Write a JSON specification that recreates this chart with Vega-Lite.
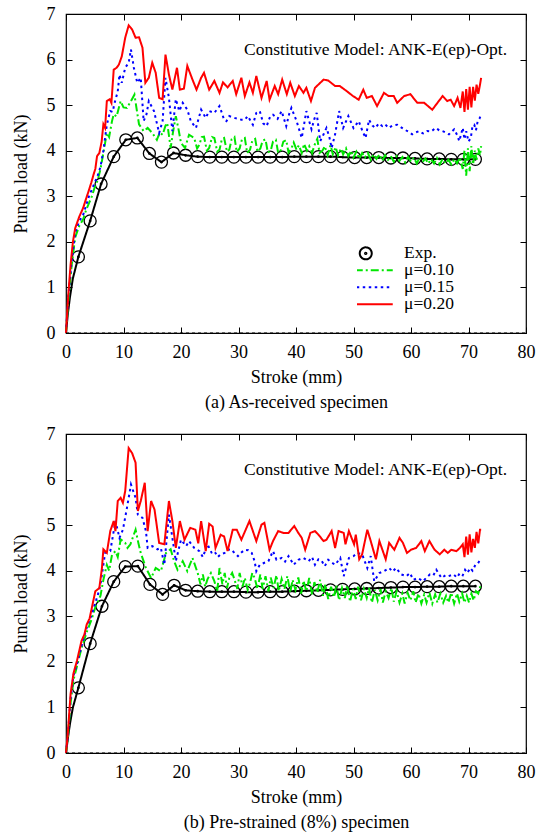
{
"$schema":"https://vega.github.io/schema/vega-lite/v6.json",
"padding":{"left":11,"top":4,"right":2,"bottom":1},
"bounds":"flush",
"spacing":101,
"datasets":{
"a":[
{"s":"Exp.","x":0,"y":0},{"s":"Exp.","x":0.3,"y":0.4},{"s":"Exp.","x":0.7,"y":0.8},{"s":"Exp.","x":1.2,"y":1.2},{"s":"Exp.","x":2.15,"y":1.67},{"s":"Exp.","x":4.2,"y":2.46},{"s":"Exp.","x":6.1,"y":3.27},{"s":"Exp.","x":8.3,"y":3.87},{"s":"Exp.","x":10.4,"y":4.24},{"s":"Exp.","x":12.4,"y":4.28},{"s":"Exp.","x":14.5,"y":3.94},{"s":"Exp.","x":16.6,"y":3.75},{"s":"Exp.","x":18.7,"y":3.95},{"s":"Exp.","x":20.8,"y":3.9},{"s":"Exp.","x":22.9,"y":3.87},{"s":"Exp.","x":25.0,"y":3.86},{"s":"Exp.","x":27.1,"y":3.86},{"s":"Exp.","x":29.2,"y":3.86},{"s":"Exp.","x":31.3,"y":3.86},{"s":"Exp.","x":33.4,"y":3.86},{"s":"Exp.","x":35.5,"y":3.86},{"s":"Exp.","x":37.6,"y":3.86},{"s":"Exp.","x":39.7,"y":3.87},{"s":"Exp.","x":41.8,"y":3.87},{"s":"Exp.","x":43.9,"y":3.87},{"s":"Exp.","x":46.0,"y":3.87},{"s":"Exp.","x":48.1,"y":3.86},{"s":"Exp.","x":50.2,"y":3.85},{"s":"Exp.","x":52.3,"y":3.85},{"s":"Exp.","x":54.4,"y":3.85},{"s":"Exp.","x":56.5,"y":3.84},{"s":"Exp.","x":58.6,"y":3.84},{"s":"Exp.","x":60.7,"y":3.83},{"s":"Exp.","x":62.8,"y":3.82},{"s":"Exp.","x":64.9,"y":3.82},{"s":"Exp.","x":67.0,"y":3.81},{"s":"Exp.","x":69.1,"y":3.81},{"s":"Exp.","x":71.2,"y":3.81},
{"s":"μ=0.10","x":0,"y":0},{"s":"μ=0.10","x":0.4,"y":0.7},{"s":"μ=0.10","x":1.0,"y":1.5},{"s":"μ=0.10","x":1.6,"y":2.1},{"s":"μ=0.10","x":2.3,"y":2.35},{"s":"μ=0.10","x":3.0,"y":2.5},{"s":"μ=0.10","x":3.5,"y":2.7},{"s":"μ=0.10","x":4.0,"y":2.85},{"s":"μ=0.10","x":4.5,"y":3.0},{"s":"μ=0.10","x":5.0,"y":3.2},{"s":"μ=0.10","x":5.5,"y":3.35},{"s":"μ=0.10","x":6.0,"y":3.6},{"s":"μ=0.10","x":6.5,"y":3.95},{"s":"μ=0.10","x":7.1,"y":4.39},{"s":"μ=0.10","x":7.5,"y":4.3},{"s":"μ=0.10","x":8.0,"y":4.65},{"s":"μ=0.10","x":8.3,"y":4.8},{"s":"μ=0.10","x":8.8,"y":4.75},{"s":"μ=0.10","x":9.5,"y":5.09},{"s":"μ=0.10","x":10.0,"y":4.95},{"s":"μ=0.10","x":10.6,"y":4.94},{"s":"μ=0.10","x":11.3,"y":5.09},{"s":"μ=0.10","x":11.9,"y":5.23},{"s":"μ=0.10","x":12.3,"y":4.9},{"s":"μ=0.10","x":12.7,"y":4.58},{"s":"μ=0.10","x":13.5,"y":4.43},{"s":"μ=0.10","x":14.2,"y":4.5},{"s":"μ=0.10","x":15.0,"y":4.39},{"s":"μ=0.10","x":15.8,"y":4.24},{"s":"μ=0.10","x":16.3,"y":4.4},{"s":"μ=0.10","x":16.8,"y":4.35},{"s":"μ=0.10","x":17.3,"y":4.55},{"s":"μ=0.10","x":17.6,"y":4.61},{"s":"μ=0.10","x":18.2,"y":4.06},{"s":"μ=0.10","x":18.6,"y":4.4},{"s":"μ=0.10","x":19.1,"y":4.76},{"s":"μ=0.10","x":19.6,"y":4.45},{"s":"μ=0.10","x":20.0,"y":4.17},{"s":"μ=0.10","x":20.7,"y":4.06},{"s":"μ=0.10","x":21.4,"y":4.35},{"s":"μ=0.10","x":22.3,"y":4.28},{"s":"μ=0.10","x":22.8,"y":4.05},{"s":"μ=0.10","x":23.2,"y":4.13},{"s":"μ=0.10","x":23.6,"y":4.3},{"s":"μ=0.10","x":24.0,"y":4.31},{"s":"μ=0.10","x":24.5,"y":4.0},{"s":"μ=0.10","x":24.9,"y":4.06},{"s":"μ=0.10","x":25.4,"y":4.3},{"s":"μ=0.10","x":25.8,"y":4.28},{"s":"μ=0.10","x":26.3,"y":3.98},{"s":"μ=0.10","x":26.7,"y":4.02},{"s":"μ=0.10","x":27.1,"y":4.25},{"s":"μ=0.10","x":27.5,"y":4.28},{"s":"μ=0.10","x":28.0,"y":3.98},{"s":"μ=0.10","x":28.4,"y":4.02},{"s":"μ=0.10","x":28.8,"y":4.25},{"s":"μ=0.10","x":29.3,"y":4.3},{"s":"μ=0.10","x":29.7,"y":3.97},{"s":"μ=0.10","x":30.2,"y":4.05},{"s":"μ=0.10","x":30.6,"y":4.25},{"s":"μ=0.10","x":31.1,"y":4.28},{"s":"μ=0.10","x":31.5,"y":3.95},{"s":"μ=0.10","x":32.0,"y":4.02},{"s":"μ=0.10","x":32.4,"y":4.22},{"s":"μ=0.10","x":32.9,"y":4.26},{"s":"μ=0.10","x":33.3,"y":3.98},{"s":"μ=0.10","x":33.8,"y":4.05},{"s":"μ=0.10","x":34.2,"y":4.22},{"s":"μ=0.10","x":34.7,"y":4.25},{"s":"μ=0.10","x":35.1,"y":3.96},{"s":"μ=0.10","x":35.6,"y":4.0},{"s":"μ=0.10","x":36.0,"y":4.2},{"s":"μ=0.10","x":36.5,"y":4.24},{"s":"μ=0.10","x":36.9,"y":3.95},{"s":"μ=0.10","x":37.4,"y":4.02},{"s":"μ=0.10","x":37.8,"y":4.2},{"s":"μ=0.10","x":38.3,"y":4.23},{"s":"μ=0.10","x":38.7,"y":3.96},{"s":"μ=0.10","x":39.2,"y":4.05},{"s":"μ=0.10","x":39.6,"y":4.18},{"s":"μ=0.10","x":40.1,"y":4.02},{"s":"μ=0.10","x":40.5,"y":4.12},{"s":"μ=0.10","x":41.0,"y":3.95},{"s":"μ=0.10","x":41.4,"y":4.15},{"s":"μ=0.10","x":41.9,"y":4.0},{"s":"μ=0.10","x":42.3,"y":4.1},{"s":"μ=0.10","x":42.8,"y":3.95},{"s":"μ=0.10","x":43.2,"y":4.12},{"s":"μ=0.10","x":43.7,"y":4.26},{"s":"μ=0.10","x":44.1,"y":3.95},{"s":"μ=0.10","x":44.6,"y":4.0},{"s":"μ=0.10","x":45.0,"y":4.1},{"s":"μ=0.10","x":45.5,"y":3.9},{"s":"μ=0.10","x":46.0,"y":4.12},{"s":"μ=0.10","x":46.4,"y":3.92},{"s":"μ=0.10","x":46.9,"y":4.08},{"s":"μ=0.10","x":47.3,"y":3.9},{"s":"μ=0.10","x":47.8,"y":4.05},{"s":"μ=0.10","x":48.2,"y":3.92},{"s":"μ=0.10","x":48.7,"y":4.05},{"s":"μ=0.10","x":49.1,"y":3.88},{"s":"μ=0.10","x":49.6,"y":4.0},{"s":"μ=0.10","x":50.0,"y":3.85},{"s":"μ=0.10","x":50.5,"y":3.98},{"s":"μ=0.10","x":51.0,"y":3.82},{"s":"μ=0.10","x":51.5,"y":3.95},{"s":"μ=0.10","x":52.0,"y":3.85},{"s":"μ=0.10","x":52.5,"y":3.95},{"s":"μ=0.10","x":53.0,"y":3.8},{"s":"μ=0.10","x":53.5,"y":3.92},{"s":"μ=0.10","x":54.0,"y":3.82},{"s":"μ=0.10","x":54.5,"y":3.92},{"s":"μ=0.10","x":55.0,"y":3.78},{"s":"μ=0.10","x":55.5,"y":3.9},{"s":"μ=0.10","x":56.0,"y":3.8},{"s":"μ=0.10","x":56.5,"y":3.88},{"s":"μ=0.10","x":57.0,"y":3.76},{"s":"μ=0.10","x":57.5,"y":3.88},{"s":"μ=0.10","x":58.0,"y":3.78},{"s":"μ=0.10","x":58.5,"y":3.86},{"s":"μ=0.10","x":59.0,"y":3.74},{"s":"μ=0.10","x":59.5,"y":3.86},{"s":"μ=0.10","x":60.0,"y":3.76},{"s":"μ=0.10","x":60.5,"y":3.85},{"s":"μ=0.10","x":61.0,"y":3.72},{"s":"μ=0.10","x":61.5,"y":3.85},{"s":"μ=0.10","x":62.0,"y":3.75},{"s":"μ=0.10","x":62.5,"y":3.83},{"s":"μ=0.10","x":63.0,"y":3.72},{"s":"μ=0.10","x":63.5,"y":3.82},{"s":"μ=0.10","x":64.0,"y":3.72},{"s":"μ=0.10","x":64.5,"y":3.84},{"s":"μ=0.10","x":65.0,"y":3.7},{"s":"μ=0.10","x":65.5,"y":3.82},{"s":"μ=0.10","x":66.0,"y":3.72},{"s":"μ=0.10","x":66.5,"y":3.8},{"s":"μ=0.10","x":67.0,"y":3.7},{"s":"μ=0.10","x":67.5,"y":3.82},{"s":"μ=0.10","x":68.0,"y":3.72},{"s":"μ=0.10","x":68.5,"y":3.85},{"s":"μ=0.10","x":69.0,"y":3.6},{"s":"μ=0.10","x":69.3,"y":4.0},{"s":"μ=0.10","x":69.6,"y":3.45},{"s":"μ=0.10","x":69.9,"y":4.05},{"s":"μ=0.10","x":70.2,"y":3.55},{"s":"μ=0.10","x":70.5,"y":4.1},{"s":"μ=0.10","x":70.8,"y":3.7},{"s":"μ=0.10","x":71.1,"y":4.0},{"s":"μ=0.10","x":71.4,"y":3.8},{"s":"μ=0.10","x":71.7,"y":4.05},{"s":"μ=0.10","x":72.0,"y":3.9},{"s":"μ=0.10","x":72.2,"y":4.1},
{"s":"μ=0.15","x":0,"y":0},{"s":"μ=0.15","x":0.4,"y":0.8},{"s":"μ=0.15","x":1.0,"y":1.6},{"s":"μ=0.15","x":1.6,"y":2.2},{"s":"μ=0.15","x":2.3,"y":2.45},{"s":"μ=0.15","x":3.0,"y":2.6},{"s":"μ=0.15","x":3.5,"y":2.8},{"s":"μ=0.15","x":4.0,"y":3.0},{"s":"μ=0.15","x":4.5,"y":3.15},{"s":"μ=0.15","x":5.0,"y":3.3},{"s":"μ=0.15","x":5.5,"y":3.45},{"s":"μ=0.15","x":6.0,"y":3.65},{"s":"μ=0.15","x":6.5,"y":4.0},{"s":"μ=0.15","x":7.1,"y":4.57},{"s":"μ=0.15","x":7.7,"y":4.87},{"s":"μ=0.15","x":8.1,"y":4.85},{"s":"μ=0.15","x":8.5,"y":5.07},{"s":"μ=0.15","x":9.0,"y":5.3},{"s":"μ=0.15","x":9.3,"y":5.67},{"s":"μ=0.15","x":9.7,"y":5.49},{"s":"μ=0.15","x":10.3,"y":5.82},{"s":"μ=0.15","x":10.9,"y":5.93},{"s":"μ=0.15","x":11.3,"y":6.22},{"s":"μ=0.15","x":11.8,"y":5.82},{"s":"μ=0.15","x":12.4,"y":5.49},{"s":"μ=0.15","x":13.0,"y":5.6},{"s":"μ=0.15","x":13.5,"y":4.65},{"s":"μ=0.15","x":14.0,"y":4.8},{"s":"μ=0.15","x":14.4,"y":5.09},{"s":"μ=0.15","x":15.3,"y":4.87},{"s":"μ=0.15","x":16.2,"y":4.39},{"s":"μ=0.15","x":16.8,"y":4.65},{"s":"μ=0.15","x":17.3,"y":5.6},{"s":"μ=0.15","x":17.9,"y":5.16},{"s":"μ=0.15","x":18.5,"y":4.43},{"s":"μ=0.15","x":19.1,"y":5.13},{"s":"μ=0.15","x":19.7,"y":4.87},{"s":"μ=0.15","x":20.3,"y":5.05},{"s":"μ=0.15","x":21.1,"y":4.9},{"s":"μ=0.15","x":21.7,"y":4.65},{"s":"μ=0.15","x":22.6,"y":4.5},{"s":"μ=0.15","x":23.5,"y":4.9},{"s":"μ=0.15","x":24.3,"y":4.72},{"s":"μ=0.15","x":24.9,"y":4.87},{"s":"μ=0.15","x":25.8,"y":4.83},{"s":"μ=0.15","x":26.7,"y":4.98},{"s":"μ=0.15","x":27.5,"y":4.68},{"s":"μ=0.15","x":27.9,"y":4.65},{"s":"μ=0.15","x":28.4,"y":4.76},{"s":"μ=0.15","x":29.3,"y":4.72},{"s":"μ=0.15","x":30.0,"y":4.7},{"s":"μ=0.15","x":30.5,"y":4.68},{"s":"μ=0.15","x":31.1,"y":4.68},{"s":"μ=0.15","x":31.6,"y":4.76},{"s":"μ=0.15","x":32.5,"y":4.57},{"s":"μ=0.15","x":33.1,"y":4.83},{"s":"μ=0.15","x":33.7,"y":4.87},{"s":"μ=0.15","x":34.3,"y":4.6},{"s":"μ=0.15","x":34.9,"y":4.54},{"s":"μ=0.15","x":35.5,"y":4.75},{"s":"μ=0.15","x":36.0,"y":4.79},{"s":"μ=0.15","x":36.8,"y":4.7},{"s":"μ=0.15","x":37.5,"y":4.87},{"s":"μ=0.15","x":38.3,"y":4.54},{"s":"μ=0.15","x":38.8,"y":4.8},{"s":"μ=0.15","x":39.2,"y":4.94},{"s":"μ=0.15","x":40.1,"y":4.65},{"s":"μ=0.15","x":41.0,"y":4.28},{"s":"μ=0.15","x":41.8,"y":4.87},{"s":"μ=0.15","x":42.7,"y":4.47},{"s":"μ=0.15","x":43.2,"y":4.7},{"s":"μ=0.15","x":43.6,"y":4.83},{"s":"μ=0.15","x":44.2,"y":4.21},{"s":"μ=0.15","x":44.8,"y":4.36},{"s":"μ=0.15","x":45.3,"y":4.5},{"s":"μ=0.15","x":45.8,"y":4.3},{"s":"μ=0.15","x":46.2,"y":4.06},{"s":"μ=0.15","x":46.8,"y":4.36},{"s":"μ=0.15","x":47.5,"y":4.87},{"s":"μ=0.15","x":48.2,"y":4.5},{"s":"μ=0.15","x":49.1,"y":4.76},{"s":"μ=0.15","x":50.0,"y":4.5},{"s":"μ=0.15","x":50.9,"y":4.65},{"s":"μ=0.15","x":51.5,"y":4.45},{"s":"μ=0.15","x":52.1,"y":4.28},{"s":"μ=0.15","x":52.7,"y":4.68},{"s":"μ=0.15","x":53.3,"y":4.55},{"s":"μ=0.15","x":53.8,"y":4.5},{"s":"μ=0.15","x":54.4,"y":4.6},{"s":"μ=0.15","x":55.0,"y":4.54},{"s":"μ=0.15","x":55.5,"y":4.58},{"s":"μ=0.15","x":56.1,"y":4.5},{"s":"μ=0.15","x":56.8,"y":4.55},{"s":"μ=0.15","x":57.6,"y":4.57},{"s":"μ=0.15","x":58.2,"y":4.52},{"s":"μ=0.15","x":58.8,"y":4.47},{"s":"μ=0.15","x":59.5,"y":4.42},{"s":"μ=0.15","x":60.2,"y":4.36},{"s":"μ=0.15","x":60.8,"y":4.4},{"s":"μ=0.15","x":61.4,"y":4.43},{"s":"μ=0.15","x":62.1,"y":4.38},{"s":"μ=0.15","x":62.8,"y":4.43},{"s":"μ=0.15","x":63.5,"y":4.42},{"s":"μ=0.15","x":64.3,"y":4.5},{"s":"μ=0.15","x":64.9,"y":4.45},{"s":"μ=0.15","x":65.5,"y":4.43},{"s":"μ=0.15","x":66.0,"y":4.4},{"s":"μ=0.15","x":66.6,"y":4.36},{"s":"μ=0.15","x":67.1,"y":4.42},{"s":"μ=0.15","x":67.5,"y":4.47},{"s":"μ=0.15","x":68.0,"y":4.35},{"s":"μ=0.15","x":68.4,"y":4.21},{"s":"μ=0.15","x":69.0,"y":4.5},{"s":"μ=0.15","x":69.3,"y":4.25},{"s":"μ=0.15","x":69.6,"y":4.43},{"s":"μ=0.15","x":70.0,"y":4.2},{"s":"μ=0.15","x":70.4,"y":4.28},{"s":"μ=0.15","x":70.7,"y":4.55},{"s":"μ=0.15","x":71.0,"y":4.57},{"s":"μ=0.15","x":71.3,"y":4.45},{"s":"μ=0.15","x":71.6,"y":4.65},{"s":"μ=0.15","x":71.9,"y":4.7},{"s":"μ=0.15","x":72.2,"y":4.8},
{"s":"μ=0.20","x":0,"y":0},{"s":"μ=0.20","x":0.4,"y":0.85},{"s":"μ=0.20","x":0.8,"y":1.5},{"s":"μ=0.20","x":1.2,"y":2.0},{"s":"μ=0.20","x":1.6,"y":2.3},{"s":"μ=0.20","x":2.3,"y":2.55},{"s":"μ=0.20","x":3.0,"y":2.75},{"s":"μ=0.20","x":3.5,"y":2.95},{"s":"μ=0.20","x":3.9,"y":3.1},{"s":"μ=0.20","x":4.4,"y":3.3},{"s":"μ=0.20","x":4.8,"y":3.48},{"s":"μ=0.20","x":5.1,"y":3.6},{"s":"μ=0.20","x":5.4,"y":3.88},{"s":"μ=0.20","x":5.8,"y":3.95},{"s":"μ=0.20","x":6.2,"y":4.2},{"s":"μ=0.20","x":6.5,"y":4.58},{"s":"μ=0.20","x":6.8,"y":4.5},{"s":"μ=0.20","x":7.1,"y":5.09},{"s":"μ=0.20","x":7.6,"y":5.13},{"s":"μ=0.20","x":7.9,"y":5.05},{"s":"μ=0.20","x":8.3,"y":5.78},{"s":"μ=0.20","x":8.8,"y":5.82},{"s":"μ=0.20","x":9.2,"y":5.89},{"s":"μ=0.20","x":9.7,"y":6.07},{"s":"μ=0.20","x":10.3,"y":6.48},{"s":"μ=0.20","x":10.9,"y":6.75},{"s":"μ=0.20","x":11.5,"y":6.66},{"s":"μ=0.20","x":12.1,"y":6.48},{"s":"μ=0.20","x":12.7,"y":6.49},{"s":"μ=0.20","x":13.3,"y":6.26},{"s":"μ=0.20","x":13.8,"y":5.49},{"s":"μ=0.20","x":14.4,"y":5.6},{"s":"μ=0.20","x":15.0,"y":5.93},{"s":"μ=0.20","x":15.6,"y":5.71},{"s":"μ=0.20","x":16.2,"y":5.16},{"s":"μ=0.20","x":16.8,"y":5.13},{"s":"μ=0.20","x":17.3,"y":6.11},{"s":"μ=0.20","x":17.9,"y":5.67},{"s":"μ=0.20","x":18.5,"y":5.34},{"s":"μ=0.20","x":19.3,"y":5.82},{"s":"μ=0.20","x":19.8,"y":5.34},{"s":"μ=0.20","x":20.5,"y":5.36},{"s":"μ=0.20","x":21.1,"y":5.86},{"s":"μ=0.20","x":22.0,"y":5.56},{"s":"μ=0.20","x":22.7,"y":5.34},{"s":"μ=0.20","x":23.5,"y":5.6},{"s":"μ=0.20","x":24.0,"y":5.71},{"s":"μ=0.20","x":24.9,"y":5.34},{"s":"μ=0.20","x":25.8,"y":5.53},{"s":"μ=0.20","x":26.7,"y":5.27},{"s":"μ=0.20","x":27.3,"y":5.5},{"s":"μ=0.20","x":28.1,"y":5.39},{"s":"μ=0.20","x":29.0,"y":5.53},{"s":"μ=0.20","x":29.6,"y":5.24},{"s":"μ=0.20","x":30.5,"y":5.6},{"s":"μ=0.20","x":31.1,"y":5.2},{"s":"μ=0.20","x":31.9,"y":5.5},{"s":"μ=0.20","x":32.5,"y":5.27},{"s":"μ=0.20","x":33.1,"y":5.64},{"s":"μ=0.20","x":34.0,"y":5.16},{"s":"μ=0.20","x":34.9,"y":5.53},{"s":"μ=0.20","x":35.4,"y":5.12},{"s":"μ=0.20","x":36.3,"y":5.42},{"s":"μ=0.20","x":36.9,"y":5.24},{"s":"μ=0.20","x":37.6,"y":5.56},{"s":"μ=0.20","x":38.4,"y":5.24},{"s":"μ=0.20","x":39.0,"y":5.49},{"s":"μ=0.20","x":39.8,"y":5.2},{"s":"μ=0.20","x":40.5,"y":5.42},{"s":"μ=0.20","x":41.3,"y":5.27},{"s":"μ=0.20","x":41.8,"y":5.38},{"s":"μ=0.20","x":42.6,"y":5.09},{"s":"μ=0.20","x":43.3,"y":5.38},{"s":"μ=0.20","x":44.8,"y":5.56},{"s":"μ=0.20","x":45.6,"y":5.54},{"s":"μ=0.20","x":46.8,"y":5.42},{"s":"μ=0.20","x":47.6,"y":5.42},{"s":"μ=0.20","x":48.8,"y":5.31},{"s":"μ=0.20","x":49.9,"y":5.2},{"s":"μ=0.20","x":50.9,"y":5.12},{"s":"μ=0.20","x":51.7,"y":5.34},{"s":"μ=0.20","x":52.3,"y":5.16},{"s":"μ=0.20","x":53.2,"y":5.2},{"s":"μ=0.20","x":54.1,"y":4.98},{"s":"μ=0.20","x":55.3,"y":5.27},{"s":"μ=0.20","x":56.1,"y":5.2},{"s":"μ=0.20","x":57.0,"y":5.2},{"s":"μ=0.20","x":57.6,"y":5.05},{"s":"μ=0.20","x":58.8,"y":5.2},{"s":"μ=0.20","x":59.9,"y":5.24},{"s":"μ=0.20","x":61.1,"y":5.05},{"s":"μ=0.20","x":62.3,"y":5.05},{"s":"μ=0.20","x":63.7,"y":4.9},{"s":"μ=0.20","x":64.6,"y":5.05},{"s":"μ=0.20","x":65.5,"y":5.2},{"s":"μ=0.20","x":66.3,"y":5.09},{"s":"μ=0.20","x":66.9,"y":5.12},{"s":"μ=0.20","x":67.5,"y":4.98},{"s":"μ=0.20","x":68.1,"y":5.16},{"s":"μ=0.20","x":68.6,"y":4.94},{"s":"μ=0.20","x":69.0,"y":5.3},{"s":"μ=0.20","x":69.3,"y":4.85},{"s":"μ=0.20","x":69.6,"y":5.35},{"s":"μ=0.20","x":69.9,"y":4.9},{"s":"μ=0.20","x":70.2,"y":5.4},{"s":"μ=0.20","x":70.5,"y":4.95},{"s":"μ=0.20","x":70.8,"y":5.4},{"s":"μ=0.20","x":71.1,"y":5.1},{"s":"μ=0.20","x":71.4,"y":5.45},{"s":"μ=0.20","x":71.7,"y":5.25},{"s":"μ=0.20","x":72.0,"y":5.45},{"s":"μ=0.20","x":72.2,"y":5.6}
],
"b":[
{"s":"Exp.","x":0,"y":0},{"s":"Exp.","x":0.3,"y":0.3},{"s":"Exp.","x":0.7,"y":0.65},{"s":"Exp.","x":1.2,"y":1.0},{"s":"Exp.","x":2.15,"y":1.43},{"s":"Exp.","x":4.2,"y":2.4},{"s":"Exp.","x":6.25,"y":3.22},{"s":"Exp.","x":8.3,"y":3.76},{"s":"Exp.","x":10.3,"y":4.09},{"s":"Exp.","x":12.5,"y":4.1},{"s":"Exp.","x":14.6,"y":3.7},{"s":"Exp.","x":16.8,"y":3.48},{"s":"Exp.","x":18.8,"y":3.68},{"s":"Exp.","x":20.8,"y":3.57},{"s":"Exp.","x":22.9,"y":3.55},{"s":"Exp.","x":25.0,"y":3.54},{"s":"Exp.","x":27.1,"y":3.54},{"s":"Exp.","x":29.2,"y":3.54},{"s":"Exp.","x":31.3,"y":3.53},{"s":"Exp.","x":33.4,"y":3.53},{"s":"Exp.","x":35.5,"y":3.54},{"s":"Exp.","x":37.6,"y":3.54},{"s":"Exp.","x":39.7,"y":3.55},{"s":"Exp.","x":41.8,"y":3.56},{"s":"Exp.","x":43.9,"y":3.57},{"s":"Exp.","x":46.0,"y":3.58},{"s":"Exp.","x":48.1,"y":3.59},{"s":"Exp.","x":50.2,"y":3.6},{"s":"Exp.","x":52.3,"y":3.61},{"s":"Exp.","x":54.4,"y":3.62},{"s":"Exp.","x":56.5,"y":3.63},{"s":"Exp.","x":58.6,"y":3.64},{"s":"Exp.","x":60.7,"y":3.64},{"s":"Exp.","x":62.8,"y":3.65},{"s":"Exp.","x":64.9,"y":3.65},{"s":"Exp.","x":67.0,"y":3.66},{"s":"Exp.","x":69.1,"y":3.66},{"s":"Exp.","x":71.2,"y":3.66},
{"s":"μ=0.10","x":0,"y":0},{"s":"μ=0.10","x":0.3,"y":0.3},{"s":"μ=0.10","x":0.8,"y":1.1},{"s":"μ=0.10","x":1.3,"y":1.6},{"s":"μ=0.10","x":1.9,"y":1.9},{"s":"μ=0.10","x":2.7,"y":2.3},{"s":"μ=0.10","x":3.6,"y":2.65},{"s":"μ=0.10","x":4.5,"y":2.95},{"s":"μ=0.10","x":5.1,"y":3.2},{"s":"μ=0.10","x":6.0,"y":3.45},{"s":"μ=0.10","x":6.5,"y":3.8},{"s":"μ=0.10","x":7.1,"y":4.13},{"s":"μ=0.10","x":7.5,"y":4.0},{"s":"μ=0.10","x":8.0,"y":4.35},{"s":"μ=0.10","x":8.6,"y":4.43},{"s":"μ=0.10","x":9.0,"y":4.3},{"s":"μ=0.10","x":9.5,"y":4.69},{"s":"μ=0.10","x":10.3,"y":4.61},{"s":"μ=0.10","x":10.7,"y":4.5},{"s":"μ=0.10","x":11.2,"y":4.58},{"s":"μ=0.10","x":12.1,"y":4.9},{"s":"μ=0.10","x":12.6,"y":4.6},{"s":"μ=0.10","x":13.0,"y":4.39},{"s":"μ=0.10","x":13.9,"y":4.06},{"s":"μ=0.10","x":14.8,"y":3.84},{"s":"μ=0.10","x":15.6,"y":4.06},{"s":"μ=0.10","x":16.5,"y":3.99},{"s":"μ=0.10","x":17.4,"y":4.39},{"s":"μ=0.10","x":18.2,"y":4.47},{"s":"μ=0.10","x":18.8,"y":4.21},{"s":"μ=0.10","x":19.4,"y":4.02},{"s":"μ=0.10","x":20.3,"y":4.21},{"s":"μ=0.10","x":21.1,"y":3.99},{"s":"μ=0.10","x":22.0,"y":4.28},{"s":"μ=0.10","x":22.9,"y":3.95},{"s":"μ=0.10","x":23.4,"y":3.7},{"s":"μ=0.10","x":23.8,"y":3.92},{"s":"μ=0.10","x":24.2,"y":3.65},{"s":"μ=0.10","x":24.6,"y":3.81},{"s":"μ=0.10","x":25.2,"y":3.95},{"s":"μ=0.10","x":25.8,"y":3.77},{"s":"μ=0.10","x":26.3,"y":3.55},{"s":"μ=0.10","x":26.7,"y":4.06},{"s":"μ=0.10","x":27.2,"y":3.7},{"s":"μ=0.10","x":27.6,"y":3.95},{"s":"μ=0.10","x":28.0,"y":3.62},{"s":"μ=0.10","x":28.4,"y":3.84},{"s":"μ=0.10","x":28.9,"y":3.95},{"s":"μ=0.10","x":29.3,"y":3.81},{"s":"μ=0.10","x":29.8,"y":3.6},{"s":"μ=0.10","x":30.2,"y":3.95},{"s":"μ=0.10","x":30.7,"y":3.65},{"s":"μ=0.10","x":31.1,"y":3.84},{"s":"μ=0.10","x":31.6,"y":3.58},{"s":"μ=0.10","x":32.0,"y":3.73},{"s":"μ=0.10","x":32.4,"y":3.95},{"s":"μ=0.10","x":32.8,"y":3.84},{"s":"μ=0.10","x":33.3,"y":3.6},{"s":"μ=0.10","x":33.8,"y":3.92},{"s":"μ=0.10","x":34.2,"y":3.6},{"s":"μ=0.10","x":34.7,"y":3.88},{"s":"μ=0.10","x":35.2,"y":3.55},{"s":"μ=0.10","x":35.6,"y":3.85},{"s":"μ=0.10","x":36.1,"y":3.62},{"s":"μ=0.10","x":36.6,"y":3.9},{"s":"μ=0.10","x":37.0,"y":3.55},{"s":"μ=0.10","x":37.5,"y":3.82},{"s":"μ=0.10","x":38.0,"y":3.6},{"s":"μ=0.10","x":38.5,"y":3.88},{"s":"μ=0.10","x":39.0,"y":3.52},{"s":"μ=0.10","x":39.4,"y":3.8},{"s":"μ=0.10","x":39.9,"y":3.58},{"s":"μ=0.10","x":40.4,"y":3.85},{"s":"μ=0.10","x":40.9,"y":3.5},{"s":"μ=0.10","x":41.3,"y":3.78},{"s":"μ=0.10","x":41.8,"y":3.55},{"s":"μ=0.10","x":42.3,"y":3.84},{"s":"μ=0.10","x":42.8,"y":3.48},{"s":"μ=0.10","x":43.2,"y":3.75},{"s":"μ=0.10","x":43.7,"y":3.52},{"s":"μ=0.10","x":44.2,"y":3.8},{"s":"μ=0.10","x":44.7,"y":3.45},{"s":"μ=0.10","x":45.1,"y":3.7},{"s":"μ=0.10","x":45.6,"y":3.38},{"s":"μ=0.10","x":46.1,"y":3.65},{"s":"μ=0.10","x":46.6,"y":3.42},{"s":"μ=0.10","x":47.0,"y":3.68},{"s":"μ=0.10","x":47.5,"y":3.35},{"s":"μ=0.10","x":48.0,"y":3.62},{"s":"μ=0.10","x":48.5,"y":3.4},{"s":"μ=0.10","x":48.9,"y":3.68},{"s":"μ=0.10","x":49.4,"y":3.32},{"s":"μ=0.10","x":49.9,"y":3.6},{"s":"μ=0.10","x":50.4,"y":3.38},{"s":"μ=0.10","x":50.8,"y":3.65},{"s":"μ=0.10","x":51.3,"y":3.35},{"s":"μ=0.10","x":51.8,"y":3.6},{"s":"μ=0.10","x":52.3,"y":3.4},{"s":"μ=0.10","x":52.7,"y":3.62},{"s":"μ=0.10","x":53.2,"y":3.3},{"s":"μ=0.10","x":53.7,"y":3.58},{"s":"μ=0.10","x":54.2,"y":3.35},{"s":"μ=0.10","x":54.7,"y":3.6},{"s":"μ=0.10","x":55.1,"y":3.3},{"s":"μ=0.10","x":55.6,"y":3.55},{"s":"μ=0.10","x":56.1,"y":3.4},{"s":"μ=0.10","x":56.6,"y":3.62},{"s":"μ=0.10","x":57.0,"y":3.32},{"s":"μ=0.10","x":57.5,"y":3.55},{"s":"μ=0.10","x":58.0,"y":3.3},{"s":"μ=0.10","x":58.5,"y":3.5},{"s":"μ=0.10","x":58.9,"y":3.28},{"s":"μ=0.10","x":59.4,"y":3.52},{"s":"μ=0.10","x":59.9,"y":3.35},{"s":"μ=0.10","x":60.4,"y":3.55},{"s":"μ=0.10","x":60.8,"y":3.3},{"s":"μ=0.10","x":61.3,"y":3.5},{"s":"μ=0.10","x":61.8,"y":3.28},{"s":"μ=0.10","x":62.3,"y":3.48},{"s":"μ=0.10","x":62.7,"y":3.3},{"s":"μ=0.10","x":63.2,"y":3.52},{"s":"μ=0.10","x":63.7,"y":3.28},{"s":"μ=0.10","x":64.2,"y":3.48},{"s":"μ=0.10","x":64.6,"y":3.3},{"s":"μ=0.10","x":65.1,"y":3.5},{"s":"μ=0.10","x":65.6,"y":3.3},{"s":"μ=0.10","x":66.1,"y":3.45},{"s":"μ=0.10","x":66.5,"y":3.3},{"s":"μ=0.10","x":67.0,"y":3.52},{"s":"μ=0.10","x":67.5,"y":3.28},{"s":"μ=0.10","x":68.0,"y":3.5},{"s":"μ=0.10","x":68.4,"y":3.32},{"s":"μ=0.10","x":68.9,"y":3.5},{"s":"μ=0.10","x":69.3,"y":3.3},{"s":"μ=0.10","x":69.7,"y":3.45},{"s":"μ=0.10","x":70.1,"y":3.3},{"s":"μ=0.10","x":70.5,"y":3.5},{"s":"μ=0.10","x":70.9,"y":3.35},{"s":"μ=0.10","x":71.3,"y":3.55},{"s":"μ=0.10","x":71.7,"y":3.5},{"s":"μ=0.10","x":72.2,"y":3.72},
{"s":"μ=0.15","x":0,"y":0},{"s":"μ=0.15","x":0.3,"y":0.35},{"s":"μ=0.15","x":0.8,"y":1.2},{"s":"μ=0.15","x":1.3,"y":1.7},{"s":"μ=0.15","x":1.9,"y":1.95},{"s":"μ=0.15","x":2.7,"y":2.35},{"s":"μ=0.15","x":3.6,"y":2.75},{"s":"μ=0.15","x":4.5,"y":3.05},{"s":"μ=0.15","x":5.1,"y":3.3},{"s":"μ=0.15","x":5.5,"y":3.45},{"s":"μ=0.15","x":6.0,"y":3.7},{"s":"μ=0.15","x":6.8,"y":4.39},{"s":"μ=0.15","x":7.7,"y":4.43},{"s":"μ=0.15","x":8.6,"y":5.09},{"s":"μ=0.15","x":9.3,"y":4.72},{"s":"μ=0.15","x":9.9,"y":4.9},{"s":"μ=0.15","x":10.6,"y":5.38},{"s":"μ=0.15","x":11.3,"y":5.89},{"s":"μ=0.15","x":12.1,"y":5.6},{"s":"μ=0.15","x":12.5,"y":5.23},{"s":"μ=0.15","x":13.3,"y":5.16},{"s":"μ=0.15","x":13.9,"y":4.87},{"s":"μ=0.15","x":14.2,"y":4.5},{"s":"μ=0.15","x":15.0,"y":4.54},{"s":"μ=0.15","x":15.9,"y":4.47},{"s":"μ=0.15","x":16.5,"y":4.5},{"s":"μ=0.15","x":17.1,"y":4.13},{"s":"μ=0.15","x":17.9,"y":5.23},{"s":"μ=0.15","x":18.5,"y":4.72},{"s":"μ=0.15","x":19.1,"y":4.21},{"s":"μ=0.15","x":20.0,"y":4.68},{"s":"μ=0.15","x":20.9,"y":4.54},{"s":"μ=0.15","x":21.4,"y":4.65},{"s":"μ=0.15","x":22.3,"y":4.5},{"s":"μ=0.15","x":23.2,"y":4.43},{"s":"μ=0.15","x":23.8,"y":4.3},{"s":"μ=0.15","x":24.6,"y":4.58},{"s":"μ=0.15","x":25.3,"y":4.4},{"s":"μ=0.15","x":25.8,"y":4.43},{"s":"μ=0.15","x":26.4,"y":4.3},{"s":"μ=0.15","x":26.9,"y":4.36},{"s":"μ=0.15","x":27.6,"y":4.39},{"s":"μ=0.15","x":28.1,"y":4.46},{"s":"μ=0.15","x":28.7,"y":4.47},{"s":"μ=0.15","x":29.3,"y":4.39},{"s":"μ=0.15","x":29.9,"y":4.32},{"s":"μ=0.15","x":30.5,"y":4.4},{"s":"μ=0.15","x":31.1,"y":4.46},{"s":"μ=0.15","x":31.7,"y":4.45},{"s":"μ=0.15","x":32.3,"y":4.39},{"s":"μ=0.15","x":32.8,"y":4.21},{"s":"μ=0.15","x":33.1,"y":3.99},{"s":"μ=0.15","x":33.7,"y":4.13},{"s":"μ=0.15","x":34.6,"y":4.18},{"s":"μ=0.15","x":35.2,"y":4.21},{"s":"μ=0.15","x":36.0,"y":4.43},{"s":"μ=0.15","x":36.6,"y":4.24},{"s":"μ=0.15","x":37.5,"y":4.28},{"s":"μ=0.15","x":38.1,"y":4.2},{"s":"μ=0.15","x":38.7,"y":4.32},{"s":"μ=0.15","x":39.6,"y":4.13},{"s":"μ=0.15","x":40.4,"y":4.24},{"s":"μ=0.15","x":41.3,"y":4.28},{"s":"μ=0.15","x":42.2,"y":4.21},{"s":"μ=0.15","x":42.8,"y":4.3},{"s":"μ=0.15","x":43.3,"y":4.13},{"s":"μ=0.15","x":43.9,"y":4.25},{"s":"μ=0.15","x":44.5,"y":4.21},{"s":"μ=0.15","x":45.0,"y":4.1},{"s":"μ=0.15","x":45.6,"y":4.24},{"s":"μ=0.15","x":46.2,"y":4.18},{"s":"μ=0.15","x":46.8,"y":4.13},{"s":"μ=0.15","x":47.7,"y":4.28},{"s":"μ=0.15","x":48.3,"y":3.88},{"s":"μ=0.15","x":48.8,"y":4.1},{"s":"μ=0.15","x":49.2,"y":4.28},{"s":"μ=0.15","x":50.0,"y":4.32},{"s":"μ=0.15","x":50.6,"y":4.39},{"s":"μ=0.15","x":51.5,"y":4.36},{"s":"μ=0.15","x":52.4,"y":4.06},{"s":"μ=0.15","x":53.0,"y":4.32},{"s":"μ=0.15","x":53.6,"y":3.77},{"s":"μ=0.15","x":54.5,"y":3.95},{"s":"μ=0.15","x":55.3,"y":3.99},{"s":"μ=0.15","x":56.2,"y":4.06},{"s":"μ=0.15","x":56.8,"y":3.98},{"s":"μ=0.15","x":57.4,"y":4.06},{"s":"μ=0.15","x":58.3,"y":3.92},{"s":"μ=0.15","x":59.2,"y":3.88},{"s":"μ=0.15","x":59.8,"y":3.95},{"s":"μ=0.15","x":60.4,"y":3.8},{"s":"μ=0.15","x":61.2,"y":3.84},{"s":"μ=0.15","x":62.1,"y":3.77},{"s":"μ=0.15","x":62.7,"y":3.85},{"s":"μ=0.15","x":63.3,"y":3.92},{"s":"μ=0.15","x":63.9,"y":3.9},{"s":"μ=0.15","x":64.4,"y":4.02},{"s":"μ=0.15","x":65.3,"y":3.84},{"s":"μ=0.15","x":66.0,"y":3.9},{"s":"μ=0.15","x":66.5,"y":3.88},{"s":"μ=0.15","x":67.4,"y":3.92},{"s":"μ=0.15","x":68.0,"y":3.85},{"s":"μ=0.15","x":68.5,"y":3.95},{"s":"μ=0.15","x":69.0,"y":3.9},{"s":"μ=0.15","x":69.4,"y":4.02},{"s":"μ=0.15","x":69.8,"y":3.95},{"s":"μ=0.15","x":70.3,"y":4.06},{"s":"μ=0.15","x":70.7,"y":4.0},{"s":"μ=0.15","x":71.2,"y":4.13},{"s":"μ=0.15","x":71.6,"y":4.15},{"s":"μ=0.15","x":72.2,"y":4.28},
{"s":"μ=0.20","x":0,"y":0},{"s":"μ=0.20","x":0.3,"y":0.4},{"s":"μ=0.20","x":0.8,"y":1.3},{"s":"μ=0.20","x":1.3,"y":1.75},{"s":"μ=0.20","x":1.9,"y":2.02},{"s":"μ=0.20","x":2.7,"y":2.46},{"s":"μ=0.20","x":3.2,"y":2.6},{"s":"μ=0.20","x":3.6,"y":2.82},{"s":"μ=0.20","x":4.1,"y":2.95},{"s":"μ=0.20","x":4.5,"y":3.19},{"s":"μ=0.20","x":5.1,"y":3.55},{"s":"μ=0.20","x":5.8,"y":3.62},{"s":"μ=0.20","x":6.25,"y":4.06},{"s":"μ=0.20","x":6.5,"y":4.47},{"s":"μ=0.20","x":7.1,"y":4.39},{"s":"μ=0.20","x":7.7,"y":4.87},{"s":"μ=0.20","x":8.3,"y":5.09},{"s":"μ=0.20","x":8.6,"y":4.87},{"s":"μ=0.20","x":9.0,"y":5.53},{"s":"μ=0.20","x":9.5,"y":5.6},{"s":"μ=0.20","x":9.9,"y":5.49},{"s":"μ=0.20","x":10.3,"y":5.75},{"s":"μ=0.20","x":10.9,"y":6.69},{"s":"μ=0.20","x":11.5,"y":6.58},{"s":"μ=0.20","x":12.1,"y":6.37},{"s":"μ=0.20","x":12.5,"y":5.31},{"s":"μ=0.20","x":13.0,"y":5.53},{"s":"μ=0.20","x":13.7,"y":5.93},{"s":"μ=0.20","x":14.2,"y":4.87},{"s":"μ=0.20","x":14.8,"y":5.53},{"s":"μ=0.20","x":15.4,"y":5.34},{"s":"μ=0.20","x":16.2,"y":4.61},{"s":"μ=0.20","x":17.1,"y":4.58},{"s":"μ=0.20","x":17.9,"y":5.53},{"s":"μ=0.20","x":18.5,"y":5.09},{"s":"μ=0.20","x":19.1,"y":4.5},{"s":"μ=0.20","x":19.8,"y":5.09},{"s":"μ=0.20","x":20.6,"y":4.68},{"s":"μ=0.20","x":21.6,"y":4.94},{"s":"μ=0.20","x":22.5,"y":4.9},{"s":"μ=0.20","x":23.0,"y":4.6},{"s":"μ=0.20","x":23.5,"y":5.09},{"s":"μ=0.20","x":24.3,"y":4.43},{"s":"μ=0.20","x":24.9,"y":5.03},{"s":"μ=0.20","x":25.5,"y":4.97},{"s":"μ=0.20","x":26.0,"y":4.5},{"s":"μ=0.20","x":26.9,"y":4.79},{"s":"μ=0.20","x":27.5,"y":4.75},{"s":"μ=0.20","x":28.1,"y":4.43},{"s":"μ=0.20","x":29.0,"y":4.9},{"s":"μ=0.20","x":29.7,"y":4.9},{"s":"μ=0.20","x":30.5,"y":4.68},{"s":"μ=0.20","x":31.9,"y":5.09},{"s":"μ=0.20","x":33.1,"y":4.65},{"s":"μ=0.20","x":34.0,"y":5.01},{"s":"μ=0.20","x":34.5,"y":5.05},{"s":"μ=0.20","x":35.4,"y":4.46},{"s":"μ=0.20","x":36.0,"y":4.65},{"s":"μ=0.20","x":36.9,"y":4.87},{"s":"μ=0.20","x":37.8,"y":4.83},{"s":"μ=0.20","x":38.7,"y":4.83},{"s":"μ=0.20","x":39.7,"y":4.98},{"s":"μ=0.20","x":40.4,"y":4.83},{"s":"μ=0.20","x":41.0,"y":4.72},{"s":"μ=0.20","x":41.6,"y":4.46},{"s":"μ=0.20","x":42.5,"y":4.83},{"s":"μ=0.20","x":43.3,"y":4.87},{"s":"μ=0.20","x":43.9,"y":4.79},{"s":"μ=0.20","x":44.8,"y":4.65},{"s":"μ=0.20","x":45.3,"y":4.68},{"s":"μ=0.20","x":46.2,"y":4.87},{"s":"μ=0.20","x":46.8,"y":4.5},{"s":"μ=0.20","x":47.4,"y":4.87},{"s":"μ=0.20","x":48.3,"y":4.83},{"s":"μ=0.20","x":48.6,"y":4.58},{"s":"μ=0.20","x":49.2,"y":4.87},{"s":"μ=0.20","x":50.1,"y":4.58},{"s":"μ=0.20","x":50.4,"y":4.79},{"s":"μ=0.20","x":51.0,"y":4.25},{"s":"μ=0.20","x":51.5,"y":4.36},{"s":"μ=0.20","x":52.4,"y":4.9},{"s":"μ=0.20","x":53.0,"y":4.65},{"s":"μ=0.20","x":53.9,"y":4.25},{"s":"μ=0.20","x":54.5,"y":4.65},{"s":"μ=0.20","x":55.6,"y":4.25},{"s":"μ=0.20","x":56.2,"y":4.61},{"s":"μ=0.20","x":57.1,"y":4.46},{"s":"μ=0.20","x":58.0,"y":4.72},{"s":"μ=0.20","x":58.6,"y":4.61},{"s":"μ=0.20","x":59.3,"y":4.39},{"s":"μ=0.20","x":60.0,"y":4.46},{"s":"μ=0.20","x":60.9,"y":4.5},{"s":"μ=0.20","x":61.8,"y":4.65},{"s":"μ=0.20","x":62.4,"y":4.43},{"s":"μ=0.20","x":63.2,"y":4.65},{"s":"μ=0.20","x":64.1,"y":4.46},{"s":"μ=0.20","x":65.0,"y":4.36},{"s":"μ=0.20","x":65.8,"y":4.46},{"s":"μ=0.20","x":66.4,"y":4.39},{"s":"μ=0.20","x":67.0,"y":4.46},{"s":"μ=0.20","x":67.9,"y":4.43},{"s":"μ=0.20","x":68.5,"y":4.5},{"s":"μ=0.20","x":69.0,"y":4.58},{"s":"μ=0.20","x":69.3,"y":4.3},{"s":"μ=0.20","x":69.6,"y":4.75},{"s":"μ=0.20","x":69.9,"y":4.35},{"s":"μ=0.20","x":70.2,"y":4.8},{"s":"μ=0.20","x":70.5,"y":4.4},{"s":"μ=0.20","x":70.8,"y":4.7},{"s":"μ=0.20","x":71.1,"y":4.5},{"s":"μ=0.20","x":71.4,"y":4.85},{"s":"μ=0.20","x":71.7,"y":4.6},{"s":"μ=0.20","x":72.0,"y":4.9},{"s":"μ=0.20","x":72.2,"y":4.9}
]
},
"vconcat":[
{
"width":460,"height":319,
"data":{"name":"a"},
"layer":[
{"transform":[{"filter":{"and":[{"field":"s","equal":"Exp."},{"field":"x","gte":2}]}}],
 "mark":{"type":"point","filled":false,"size":144,"strokeWidth":1.3,"opacity":1},
 "encoding":{
  "x":{"field":"x","type":"quantitative","scale":{"domain":[0,80],"nice":false},"axis":null},
  "y":{"field":"y","type":"quantitative","scale":{"domain":[0,7],"nice":false},"axis":null},
  "color":{"field":"s","type":"nominal","scale":{"domain":["Exp.","μ=0.10","μ=0.15","μ=0.20"],"range":["#000000","#00e600","#0000ff","#ff0000"]},"legend":{"title":null}},
  "shape":{"field":"s","type":"nominal","scale":{"domain":["Exp.","μ=0.10","μ=0.15","μ=0.20"],"range":["M-1,0A1,1,0,1,1,1,0A1,1,0,1,1,-1,0ZM-0.12,0A0.12,0.12,0,1,1,0.12,0A0.12,0.12,0,1,1,-0.12,0Z","M-4.5,0L4.5,0","M-4.5,0L4.5,0","M-4.5,0L4.5,0"]},"legend":{"title":null}}
 }},
{"mark":{"type":"line","strokeWidth":2},
 "encoding":{
  "x":{"field":"x","type":"quantitative","scale":{"domain":[0,80],"nice":false},"axis":{"values":[0,10,20,30,40,50,60,70,80],"labelFlush":false,"labelPadding":16,"title":["Stroke (mm)","(a) As-received specimen"],"titlePadding":7,"titleLineHeight":25}},
  "y":{"field":"y","type":"quantitative","scale":{"domain":[0,7],"nice":false},"axis":{"values":[0,1,2,3,4,5,6,7],"labelFlush":false,"labelPadding":17,"title":"Punch load (kN)","titlePadding":16}},
  "color":{"field":"s","type":"nominal","scale":{"domain":["Exp.","μ=0.10","μ=0.15","μ=0.20"],"range":["#000000","#00e600","#0000ff","#ff0000"]},"legend":{"title":null}},
  "strokeDash":{"field":"s","type":"nominal","scale":{"domain":["Exp.","μ=0.10","μ=0.15","μ=0.20"],"range":[[1,0],[8,3,2,3],[2.5,3.5],[1,0]]},"legend":{"title":null}}
 }},
{"data":{"values":[{}]},
 "mark":{"type":"rule","strokeDash":[3,3],"color":"#000000","strokeWidth":1},
 "encoding":{
  "x":{"datum":0,"type":"quantitative","axis":{"orient":"top","values":[0,10,20,30,40,50,60,70,80],"labels":false,"title":null}},
  "x2":{"datum":80},
  "y":{"datum":0,"type":"quantitative","axis":{"orient":"right","values":[0,1,2,3,4,5,6,7],"labels":false,"title":null}}
 }},
{"data":{"values":[{"label":"Constitutive Model: ANK-E(ep)-Opt."}]},
 "mark":{"type":"text","align":"right","baseline":"middle","font":"Liberation Serif","fontSize":17.5,"color":"#000000"},
 "encoding":{"x":{"datum":76.7,"type":"quantitative","axis":null},"y":{"datum":6.22,"type":"quantitative","axis":null},"text":{"field":"label"}}}
],
"resolve":{"axis":{"x":"independent","y":"independent"}}
},
{
"width":460,"height":319,
"data":{"name":"b"},
"layer":[
{"transform":[{"filter":{"and":[{"field":"s","equal":"Exp."},{"field":"x","gte":2}]}}],
 "mark":{"type":"point","filled":false,"size":144,"strokeWidth":1.3,"opacity":1},
 "encoding":{
  "x":{"field":"x","type":"quantitative","scale":{"domain":[0,80],"nice":false},"axis":null},
  "y":{"field":"y","type":"quantitative","scale":{"domain":[0,7],"nice":false},"axis":null},
  "color":{"field":"s","type":"nominal","scale":{"domain":["Exp.","μ=0.10","μ=0.15","μ=0.20"],"range":["#000000","#00e600","#0000ff","#ff0000"]},"legend":{"title":null}},
  "shape":{"field":"s","type":"nominal","scale":{"domain":["Exp.","μ=0.10","μ=0.15","μ=0.20"],"range":["M-1,0A1,1,0,1,1,1,0A1,1,0,1,1,-1,0ZM-0.12,0A0.12,0.12,0,1,1,0.12,0A0.12,0.12,0,1,1,-0.12,0Z","M-4.5,0L4.5,0","M-4.5,0L4.5,0","M-4.5,0L4.5,0"]},"legend":{"title":null}}
 }},
{"mark":{"type":"line","strokeWidth":2},
 "encoding":{
  "x":{"field":"x","type":"quantitative","scale":{"domain":[0,80],"nice":false},"axis":{"values":[0,10,20,30,40,50,60,70,80],"labelFlush":false,"labelPadding":16,"title":["Stroke (mm)","(b) Pre-strained (8%) specimen"],"titlePadding":7,"titleLineHeight":25}},
  "y":{"field":"y","type":"quantitative","scale":{"domain":[0,7],"nice":false},"axis":{"values":[0,1,2,3,4,5,6,7],"labelFlush":false,"labelPadding":17,"title":"Punch load (kN)","titlePadding":16}},
  "color":{"field":"s","type":"nominal","scale":{"domain":["Exp.","μ=0.10","μ=0.15","μ=0.20"],"range":["#000000","#00e600","#0000ff","#ff0000"]},"legend":{"title":null}},
  "strokeDash":{"field":"s","type":"nominal","scale":{"domain":["Exp.","μ=0.10","μ=0.15","μ=0.20"],"range":[[1,0],[8,3,2,3],[2.5,3.5],[1,0]]},"legend":{"title":null}}
 }},
{"data":{"values":[{}]},
 "mark":{"type":"rule","strokeDash":[3,3],"color":"#000000","strokeWidth":1},
 "encoding":{
  "x":{"datum":0,"type":"quantitative","axis":{"orient":"top","values":[0,10,20,30,40,50,60,70,80],"labels":false,"title":null}},
  "x2":{"datum":80},
  "y":{"datum":0,"type":"quantitative","axis":{"orient":"right","values":[0,1,2,3,4,5,6,7],"labels":false,"title":null}}
 }},
{"data":{"values":[{"label":"Constitutive Model: ANK-E(ep)-Opt."}]},
 "mark":{"type":"text","align":"right","baseline":"middle","font":"Liberation Serif","fontSize":17.5,"color":"#000000"},
 "encoding":{"x":{"datum":76.7,"type":"quantitative","axis":null},"y":{"datum":6.2,"type":"quantitative","axis":null},"text":{"field":"label"}}}
],
"resolve":{"axis":{"x":"independent","y":"independent"}}
}
],
"config":{
 "font":"Liberation Serif",
 "background":"#ffffff",
 "view":{"stroke":"#000000","strokeWidth":1.2},
 "axis":{"grid":false,"domain":false,"ticks":true,"tickSize":-6,"tickWidth":1,"tickColor":"#000000","labelFlush":false,"labelFont":"Liberation Serif","labelFontSize":18,"labelColor":"#000000","titleFont":"Liberation Serif","titleFontSize":18,"titleFontWeight":"normal","titleColor":"#000000"},
 "legend":{"orient":"none","legendX":291,"legendY":231,"padding":0,"labelFont":"Liberation Serif","labelFontSize":17.5,"labelColor":"#000000","symbolSize":144,"symbolStrokeWidth":2,"symbolFillColor":"transparent","labelOffset":29.5,"rowPadding":-1.3,"clipHeight":16.7,"titlePadding":0}
}
}
